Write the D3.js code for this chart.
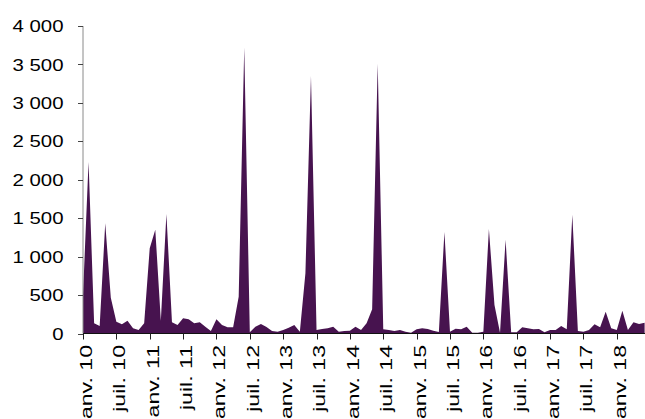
<!DOCTYPE html>
<html>
<head>
<meta charset="utf-8">
<script src="https://cdn.jsdelivr.net/npm/d3@7"></script>
<style>
  html, body { margin: 0; padding: 0; background: #fff; }
  svg { display: block; }
  text { font-family: "Liberation Sans", Arial, sans-serif; fill: #000; }
</style>
</head>
<body>
<svg id="chart" width="645" height="419"></svg>
<script>
// Monthly series, janv. 2010 -> juin 2018
const values = [
  500, 2230, 132, 98, 1435, 466, 153, 120, 167, 67, 45, 132,
  1108, 1350, 167, 1555, 146, 110, 198, 185, 132, 146, 89, 32,
  185, 110, 80, 80, 479, 3720, 15, 89, 124, 85, 32, 23,
  45, 75, 110, 23, 783, 3350, 45, 59, 67, 89, 23, 32,
  36, 89, 45, 132, 315, 3510, 55, 45, 32, 45, 23, 10,
  55, 67, 60, 36, 20, 1320, 23, 63, 55, 89, 10, 10,
  23, 1360, 371, 10, 1220, 15, 15, 80, 67, 55, 59, 15,
  45, 45, 98, 55, 1545, 32, 23, 45, 119, 80, 284, 67,
  45, 297, 45, 146, 124, 141
];
const tickLabels = [
  "janv. 10", "juil. 10", "janv. 11", "juil. 11", "janv. 12", "juil. 12",
  "janv. 13", "juil. 13", "janv. 14", "juil. 14", "janv. 15", "juil. 15",
  "janv. 16", "juil. 16", "janv. 17", "juil. 17", "janv. 18"
];
const tickMonths = [0, 6, 12, 18, 24, 30, 36, 42, 48, 54, 60, 66, 72, 78, 84, 90, 96];
const yTicks = [0, 500, 1000, 1500, 2000, 2500, 3000, 3500, 4000];

const svg = d3.select("#chart");
const x = d3.scaleLinear().domain([0, 101]).range([83, 644.6]);
const y = d3.scaleLinear().domain([0, 4000]).range([333.5, 26]);

const fmt = v => d3.format(",")(v).replace(/,/g, "\u00a0");

// area
const area = d3.area()
  .x((d, i) => x(i))
  .y0(y(0))
  .y1(d => y(d));
svg.append("path")
  .datum(values)
  .attr("fill", "#47134f")
  .attr("d", area);

// y axis
const yAxis = svg.append("g");
yAxis.append("line")
  .attr("x1", x(0)).attr("x2", x(0))
  .attr("y1", y(4000)).attr("y2", y(0))
  .attr("stroke", "#8a8a8a").attr("stroke-width", 1);
yAxis.selectAll("line.tick").data(yTicks).join("line")
  .attr("class", "tick")
  .attr("x1", x(0) - 5).attr("x2", x(0))
  .attr("y1", d => Math.round(y(d)) + 0.5).attr("y2", d => Math.round(y(d)) + 0.5)
  .attr("stroke", "#444").attr("stroke-width", 1);
yAxis.selectAll("text").data(yTicks).join("text")
  .attr("transform", d => `translate(63.5,${y(d)}) scale(1.2,1)`)
  .attr("text-anchor", "end")
  .attr("dy", "0.36em")
  .style("font-size", "17px")
  .text(fmt);

// x axis
const xAxis = svg.append("g");
xAxis.append("line")
  .attr("x1", x(0)).attr("x2", 645)
  .attr("y1", 333.5).attr("y2", 333.5)
  .attr("stroke", "#111").attr("stroke-width", 1.2);
xAxis.selectAll("line.tick").data(tickMonths).join("line")
  .attr("class", "tick")
  .attr("x1", d => Math.round(x(d)) + 0.5).attr("x2", d => Math.round(x(d)) + 0.5)
  .attr("y1", 333.5).attr("y2", 339.5)
  .attr("stroke", "#222").attr("stroke-width", 1);
xAxis.selectAll("text").data(tickMonths).join("text")
  .attr("transform", d => `translate(${x(d) + 2.8},345) rotate(-90) scale(1.36,1)`)
  .attr("text-anchor", "end")
  .attr("dy", "0.36em")
  .style("font-size", "17px")
  .text((d, i) => tickLabels[i]);
</script>
</body>
</html>
